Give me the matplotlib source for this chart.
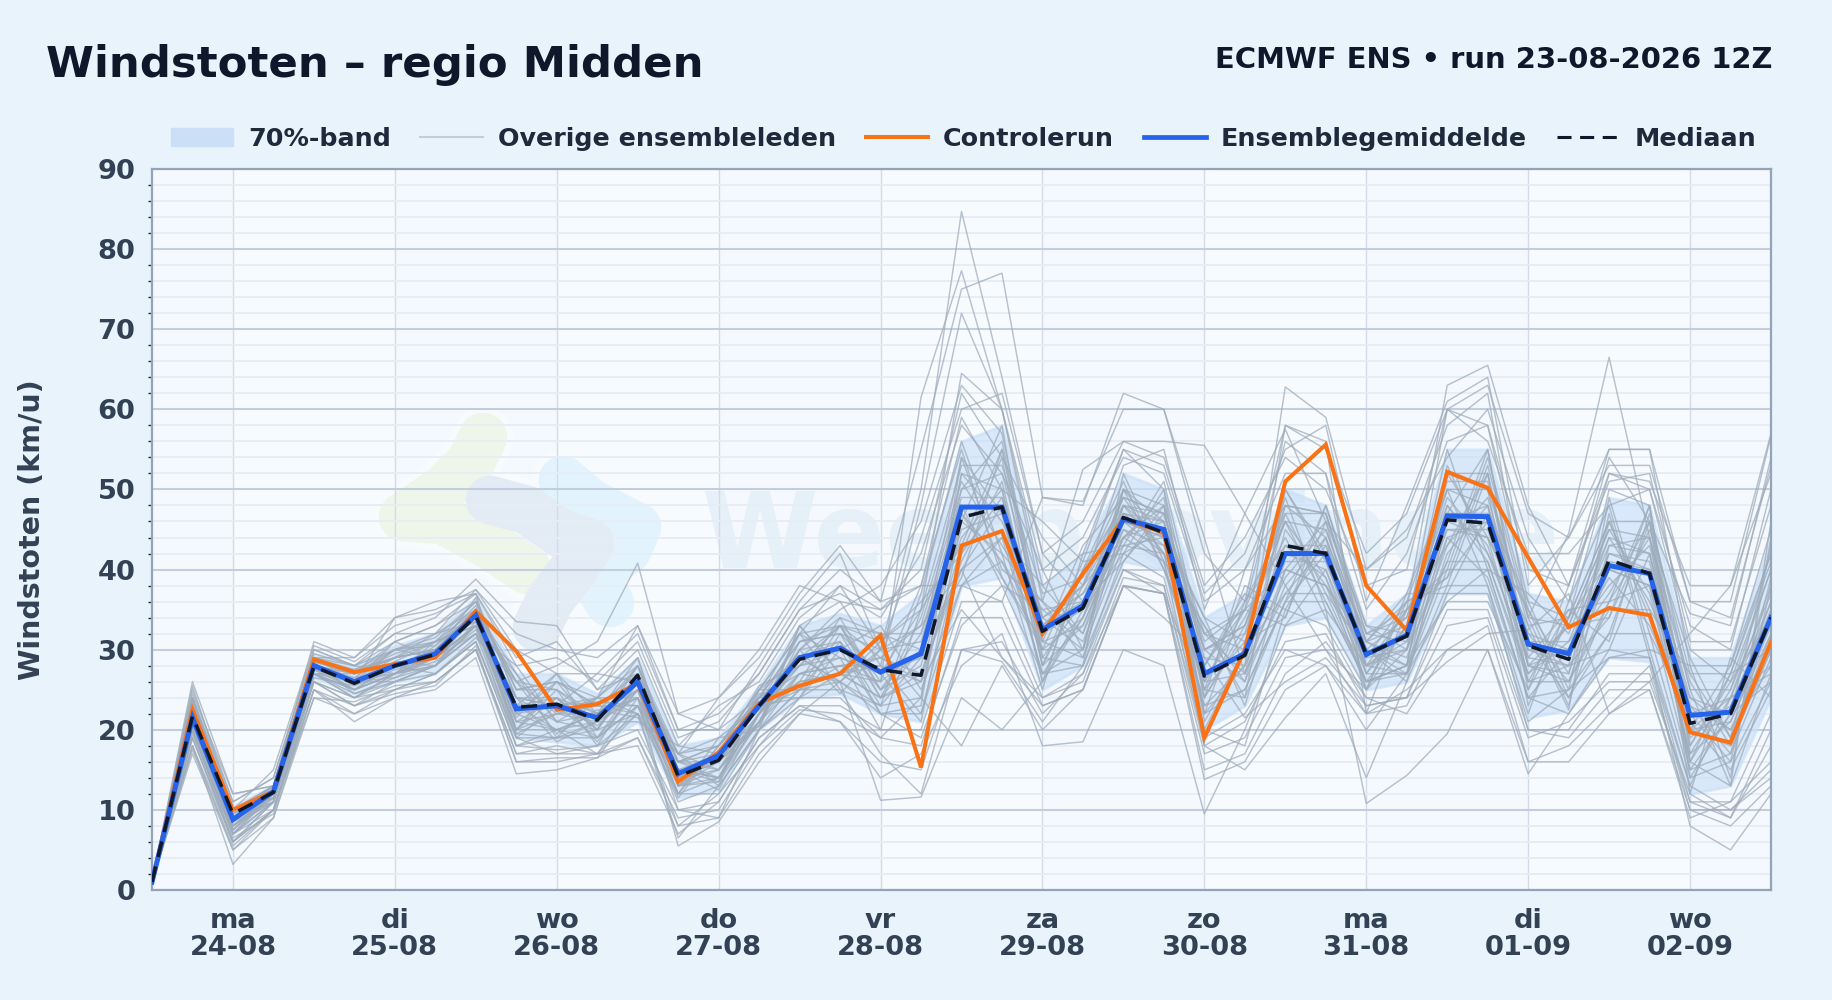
"""
Windstoten pluim (ECMWF ENS) voor regio Midden, naar out.png.
"""

import matplotlib
matplotlib.use("Agg")
import matplotlib.pyplot as plt
from matplotlib.lines import Line2D
from matplotlib.patches import Patch
from matplotlib.ticker import MultipleLocator

# forecast hours since the run, 6-hourly steps
hours = [0, 6, 12, 18, 24, 30, 36, 42, 48, 54, 60, 66, 72, 78, 84, 90, 96, 102, 108, 114, 120,
         126, 132, 138, 144, 150, 156, 162, 168, 174, 180, 186, 192, 198, 204, 210, 216, 222, 228, 234, 240]

day_hours = [12, 36, 60, 84, 108, 132, 156, 180, 204, 228]
day_labels = ["ma\n24-08", "di\n25-08", "wo\n26-08", "do\n27-08", "vr\n28-08",
              "za\n29-08", "zo\n30-08", "ma\n31-08", "di\n01-09", "wo\n02-09"]

control = [1, 22.5, 10, 12.3, 28.8, 27.2, 28.2, 29, 34.8, 29.8, 22.5, 23.2, 25.8, 13.5, 17.2, 23.3, 25.5, 27, 31.8, 15.3, 43,
           44.8, 32, 39.5, 46.3, 44.6, 19, 30, 51, 55.6, 38, 32.4, 52.2, 50.2, 41.5, 32.8, 35.2, 34.3, 19.7, 18.4, 31]
mean = [1, 21.5, 8.8, 12.3, 28, 26, 28, 29.5, 34.3, 22.6, 23, 21.5, 26, 14.5, 16.8, 23, 29, 30.2, 27.2, 29.5, 47.8,
        47.8, 32.5, 35.5, 46.3, 45, 27, 29.5, 42, 42, 29.4, 31.8, 46.7, 46.6, 30.7, 29.5, 40.5, 39.5, 21.8, 22.2, 34]
median = [1, 21.7, 9.5, 12.2, 27.9, 25.8, 28, 29.4, 34.2, 22.8, 23.2, 21.2, 26.8, 14.2, 16.2, 23, 28.8, 30, 27.5, 26.8, 46.5,
          47.8, 32.3, 35.2, 46.5, 44.6, 26.7, 29.3, 43, 42, 29.4, 31.7, 46.2, 45.8, 30.5, 28.8, 41.2, 39.5, 20.8, 22, 34]
band_low = [1, 19.5, 7, 11, 26.5, 24.5, 26, 27, 31.5, 19, 18.5, 18, 21, 11.5, 12.5, 20, 24, 24.5, 22, 21, 38,
            39, 25, 28, 41, 40, 20, 23, 33, 34, 25, 26, 37, 37, 21.5, 22.5, 29, 28.5, 12, 13, 24]
band_high = [1.5, 24, 10.5, 13, 29.5, 28, 30.5, 32, 36.5, 27, 27, 24.5, 29, 18, 19, 25.5, 33, 34.5, 33, 37, 56,
             58, 38, 42, 52, 50, 34, 37, 50, 48, 33, 37, 55, 55, 37, 36, 49, 48, 29, 29, 44]

members = [
    [1, 22, 9, 12, 28, 26, 31, 33, 36, 24, 24, 22, 28, 16, 18, 25, 32, 38, 30, 50, 84.7, 64, 42, 36, 48, 47, 30, 33, 48, 44, 31, 36, 50, 48, 32, 30, 44, 42, 24, 22, 36],
    [1, 24, 11, 14, 30, 28, 32, 34, 38.8, 33.5, 33, 25, 27, 13, 14, 22, 29, 33, 26, 61.5, 77.3, 60, 38, 42, 55, 50, 28, 35, 56, 52, 28, 32, 60, 58, 36, 34, 52, 50, 30, 26, 40],
    [1, 20, 7, 11, 27, 24, 27, 29, 33, 20, 22, 24, 33, 20, 22, 27, 35, 40, 36, 55, 75, 77, 49, 48, 62, 60, 44, 27, 40, 38, 26, 28, 52, 52, 28, 26, 40, 38, 16, 13, 27],
    [1, 23, 10, 13, 29, 27, 29, 31, 35, 26, 28, 31, 40.8, 22, 20, 24, 33, 36, 28, 48, 72, 60, 36, 52.5, 56, 56, 55.5, 47, 38, 30, 25, 33, 45, 44, 26, 28, 50, 48, 20, 18, 30],
    [1, 18, 5, 10, 25, 22, 25, 27, 31, 18, 19, 21, 25, 10, 9, 20, 27, 29, 20, 35, 64.5, 60, 40, 30, 50, 46, 22, 28, 58, 56, 22, 35, 63, 65.5, 48, 38, 55, 55, 28, 28, 45],
    [1, 21, 8, 12, 28, 25, 28, 30, 34, 22, 23, 19, 26, 14, 16, 23, 30, 35, 38, 46, 63, 57, 33, 38, 47, 43, 32, 30, 62.8, 59, 40, 44, 58, 62, 34, 44.5, 66.5, 44, 22, 24, 38],
    [1, 19, 6, 11, 26, 23, 26, 28, 32, 19, 17, 18, 22, 8, 12, 18, 24, 24, 19, 24, 18, 28, 20, 25, 38, 37, 24, 40, 48, 47, 31, 28, 36, 36, 25, 38, 52, 51, 38, 38, 52],
    [1, 17, 5, 9, 24, 22, 24, 25, 29, 14.5, 15, 16.5, 23, 11, 13, 20, 24, 27, 24, 30, 40, 29, 24, 27, 40, 38, 19, 22, 30, 28, 20, 27, 36, 40, 24, 22, 30, 29, 11, 9, 20],
    [1, 18, 3.2, 9, 25, 21, 24, 26, 30, 17, 17, 17, 24, 5.5, 8.5, 16, 22, 26, 11.2, 11.6, 24, 20, 26, 34, 44, 41, 18, 15, 21.5, 27, 14, 26, 38, 38, 20, 19, 25, 25, 9, 11, 16],
    [1, 19, 6, 10, 26, 24, 25, 26, 30, 16, 16, 17, 18, 7, 11, 19, 23, 21, 14, 17, 28, 32, 18, 18.5, 30, 28, 9.5, 20, 33, 35, 10.8, 14.3, 19.5, 30, 16, 16, 22, 25, 10, 8, 13],
    [1, 20, 7, 10, 27, 24, 26, 27, 31, 19, 19, 20, 22, 12, 12, 20, 25, 25, 17, 12, 30, 28.5, 21, 28, 40, 37, 13.8, 16, 25, 28, 22, 25, 30, 30, 14.5, 22, 29, 29, 8, 5, 12],
    [1, 22, 8, 12, 28, 26, 28, 30, 34, 22, 20, 21, 24, 15, 14, 22, 27, 28, 26, 30, 44, 50, 30, 34, 48, 46, 24, 32, 42, 40, 28, 30, 44, 46, 28, 30, 42, 40, 16, 24, 36],
    [1, 23, 9.5, 13, 29, 27, 30, 31, 36, 25, 26, 23, 27, 16, 18, 24, 31, 33, 24, 26, 52, 46, 34, 30, 50, 44, 30, 26, 38, 44, 30, 34, 48, 42, 32, 26, 36, 44, 26, 18, 30],
    [1, 21, 7.5, 11.5, 27.5, 25, 27, 29, 33, 20, 24, 20, 28, 13, 16, 21, 29, 26, 31, 36, 42, 54, 28, 38, 44, 48, 22, 36, 46, 36, 26, 28, 52, 50, 25, 34, 46, 34, 20, 28, 42],
    [1, 22.5, 9, 12.5, 28.5, 27.5, 29, 32, 35, 27, 19, 24, 22, 17, 13, 25, 25, 31, 22, 23, 54, 40, 36, 29, 46, 42, 33, 24, 36, 48, 32, 35, 40, 54, 35, 24, 32, 46, 14, 22, 26],
    [1, 20.5, 8, 11, 27, 24.5, 26.5, 28, 32, 23, 27, 19, 25, 12, 19, 20, 33, 27, 29, 33, 40, 48, 26, 40, 51, 40, 26, 34, 44, 34, 25, 37, 50, 38, 22, 36, 48, 30, 28, 14, 44],
    [1, 21.5, 10, 12, 28, 26.5, 30, 30.5, 34.5, 21, 22, 22, 29, 14, 15, 23, 26, 34, 25, 28, 50, 56, 32, 35, 42, 50, 21, 30, 50, 42, 27, 27, 42, 48, 30, 28, 30, 42, 18, 26, 34],
    [1, 24, 8.5, 13, 29.5, 28, 27, 29.5, 36.5, 24, 18.5, 21, 21, 18, 17, 25.5, 28, 30, 33, 25, 38, 44, 38, 32, 47, 46, 28, 37, 34, 46, 33, 32, 55, 40, 37, 32, 44, 36, 24, 20, 28],
    [1, 19.5, 7, 12, 26.5, 25.5, 28, 27, 31.5, 26, 25, 18, 26, 15, 12.5, 22, 32, 25, 23, 37, 56, 42, 25, 42, 43, 44, 34, 23, 40, 38, 29, 36, 38, 52, 26, 35, 36, 48, 12, 29, 24],
    [1, 22, 9, 11, 28, 27, 29.5, 31, 33.5, 19, 23, 23.5, 23, 11.5, 18, 24, 24, 32, 27, 21, 46, 58, 29, 28, 52, 41, 23, 28, 48, 47, 30, 26, 46, 44, 33, 22.5, 49, 32, 22, 16, 38],
    [1, 23, 7, 12, 28, 26, 26, 28, 35, 22, 26, 20, 27, 16, 14, 21, 30, 24.5, 30, 31, 48, 38, 35, 36, 41, 47, 31, 35, 33, 40, 26, 33, 47, 55, 28, 33, 34, 45, 29, 19, 32],
    [1, 25, 11, 14, 30, 28, 31, 33, 37, 28, 29, 26, 31, 19, 21, 27, 35, 37, 34, 42, 58, 52, 40, 44, 54, 52, 36, 40, 52, 52, 35, 42, 56, 58, 40, 38, 51, 52, 31, 31, 48],
    [1, 25.5, 10, 15, 30.5, 28.5, 32, 32, 37.5, 30, 27, 27, 32, 20, 20, 28, 36, 42, 30, 44, 60, 62, 42, 46, 56, 54, 38, 44, 54, 50, 38, 40, 60, 56, 42, 42, 48, 50, 33, 30, 50],
    [1, 24.5, 12, 13, 31, 29, 33, 34.5, 37, 29, 31, 25, 30, 18, 23, 26, 34, 38, 35, 40, 62, 54, 44, 38, 53, 55, 35, 47, 57.5, 46, 40, 45, 54, 60, 44, 36, 54, 46, 34.5, 33, 54],
    [1, 18, 6, 10, 25, 23, 25, 27, 31, 18, 17.5, 18, 20, 10, 11, 19, 23, 23, 20, 20, 36, 36, 24, 26, 39, 38, 18, 21, 31, 32, 23, 24, 35, 35, 20, 20, 27, 27, 11, 11, 22],
    [1, 17.5, 5.5, 10, 24, 23.5, 25.5, 26, 30, 17, 18, 17, 19, 9, 10, 18, 22.5, 22, 19, 18, 34, 34, 23, 25, 38, 37, 17, 19, 29, 30, 22, 23, 33, 34, 19, 21, 26, 26, 12, 9, 18],
    [1, 19, 6.5, 9.5, 26, 23, 24.5, 25.5, 30.5, 16, 16.5, 16.5, 19, 8, 9, 17, 22, 21, 16, 15, 30, 31, 22, 27, 37.9, 37, 15, 17, 27, 31, 24, 22, 30, 33, 16, 18, 23, 28, 10, 10, 14],
    [1, 26, 12, 13, 29, 29, 34, 35, 37.5, 32, 30, 29, 33, 22, 24, 29, 37, 43, 36, 38, 59, 50, 46, 41, 55, 53, 37, 42, 55, 58, 36, 48, 61, 64, 38, 44, 53, 53, 36, 36, 56.7],
    [1, 20, 6, 11, 26, 24, 27, 28, 33, 18, 20, 17, 22, 6.5, 13, 20, 25, 26, 22, 19, 33, 38, 27, 28, 42, 39, 20, 18, 35, 33, 24, 24, 37, 37, 21, 25, 29, 30, 13, 10, 15],
    [1, 21, 8, 12, 28, 25.5, 27.5, 29, 33, 24, 21, 22, 25, 14, 16, 23, 28, 29, 27, 29, 45, 47, 31, 33, 45, 43, 27, 29, 41, 41, 28, 31, 45, 45, 30, 29, 40, 38, 20, 21, 33],
    [1, 22, 9, 12, 27, 26, 29, 30, 34, 21, 24, 20, 27, 13, 15, 22, 30, 31, 25, 32, 49, 49, 33, 37, 47, 45, 25, 31, 43, 43, 29, 30, 47, 47, 28, 27, 42, 41, 19, 23, 35],
    [1, 23, 8, 11.5, 28.5, 27, 28, 29.5, 35, 26, 22, 23, 23, 15, 17, 24, 27, 28, 29, 27, 41, 51, 29, 36, 49, 47, 29, 28, 39, 45, 31, 29, 43, 49, 31, 31, 38, 43, 23, 20, 31],
    [1, 21, 9, 12.5, 27.5, 26, 28.5, 31, 33, 20, 25, 21, 26, 16, 15, 21, 31, 32, 24, 34, 51, 43, 35, 31, 44, 49, 24, 33, 46, 39, 27, 33, 49, 43, 27, 33, 45, 37, 17, 25, 37],
    [1, 20, 7, 11, 27, 25, 27, 28.5, 32.5, 23, 20, 22, 24, 12, 14, 22, 26, 27, 28, 26, 43, 45, 27, 34, 46, 44, 26, 27, 37, 37, 26, 28, 41, 41, 26, 26, 35, 35, 15, 17, 29],
    [1, 24, 10, 13, 29, 28, 30, 31.5, 36, 25, 26, 24, 28, 17, 18, 25, 32, 33, 31, 35, 53, 53, 37, 39, 50, 48, 32, 35, 47, 47, 32, 34, 51, 51, 33, 34, 46, 46, 27, 27, 41],
    [1, 22, 8.5, 12, 28, 27, 29, 30, 34, 23, 23, 20.5, 25, 14, 16.5, 23, 29, 26, 23, 24, 47, 41, 30, 30, 48, 44, 22, 25, 36, 42, 30, 27, 44, 39, 24, 30, 39, 33, 21, 15, 25],
    [1, 22.5, 9.5, 11.5, 29, 26, 27, 30.5, 35.5, 21.5, 27, 22, 24, 15, 13.5, 24.5, 25, 33, 32, 30, 39, 55, 34, 37, 43, 51, 30, 32, 49, 35, 28, 35, 39, 53, 34, 23, 43, 44, 16, 27, 42],
    [1, 23.5, 7.5, 12.5, 27, 27, 31, 29, 32, 28, 21, 24, 29, 13, 17, 20.5, 33, 27, 26, 38, 55, 39, 31, 43, 49, 42, 25, 38, 35, 44, 25, 30, 53, 42, 29, 35, 31, 47, 25, 13, 46],
    [1, 20.5, 9, 12, 28.5, 24.5, 26, 28, 33.5, 19.5, 19, 19, 23, 17, 19, 23, 24, 30, 22, 22, 42, 49, 28, 33, 45, 41, 33, 26, 45, 38, 31, 37, 37, 47, 36, 25, 47, 29, 13, 24, 27],
    [1, 22, 8, 12, 28, 26, 34, 36, 37, 20, 20, 22, 26, 15, 16, 22, 28, 33, 29, 26, 35, 29, 23, 25, 38, 34, 29, 21.5, 26, 29, 23, 24, 28.5, 32, 32.5, 37, 22, 26, 32, 38, 57],
    [1, 21, 9, 13, 27, 25, 27, 29, 33, 24, 23, 27, 26, 17, 24, 30, 38, 36, 35, 38, 38, 36, 49, 48.5, 60, 60, 42, 36, 58, 55, 42, 47, 60, 63, 47, 44, 55, 55, 36, 34, 53],
    [1, 21.5, 8, 12, 27, 25, 27, 28, 33, 21, 20, 19, 23, 13, 13.5, 21, 26, 27, 24, 27, 40, 44, 27, 30, 43, 42, 23, 25, 36, 36, 26, 27, 40, 40, 24, 25, 32, 32, 14, 16, 26],
    [1, 23, 9, 12.5, 29, 27, 29, 30, 35, 25, 25, 22, 26, 16, 17, 24, 31, 32, 30, 33, 50, 52, 34, 38, 49, 47, 30, 33, 46, 45, 31, 33, 50, 50, 34, 33, 45, 44, 25, 25, 40],
    [1, 22, 10, 11.5, 28, 26, 30, 29, 34, 20, 26, 23, 22, 14, 16, 25, 29, 31, 23, 29, 46, 42, 36, 32, 44, 46, 26, 35, 40, 46, 27, 35, 43, 52, 30, 30, 37, 46, 18, 27, 30],
    [1, 20.5, 7.5, 12, 27, 26.5, 27, 31, 33, 27, 21, 20, 27, 17, 15, 21, 27, 26, 30, 24, 52, 50, 28, 40, 48, 42, 32, 27, 47, 37, 30, 28, 52, 44, 35, 27, 46, 35, 27, 19, 39],
    [1, 21, 8.5, 11, 28, 25, 28.5, 28, 32, 24, 23, 24, 24, 12, 18, 23, 32, 29, 27, 35, 43, 55, 31, 29, 41, 48, 20, 30, 37, 43, 32, 31, 46, 48, 23, 34, 41, 40, 15, 22, 43],
    [1, 23.5, 9, 13, 28.5, 27, 29, 30, 35, 19.5, 22, 21, 28, 15, 14, 24, 28, 33, 25, 30, 54, 47, 26, 35, 50, 40, 28, 36, 43, 39, 25, 36, 39, 46, 31, 24, 36, 38, 23, 17, 35],
    [1, 22.5, 8, 12, 27.5, 26, 26.5, 29, 34.5, 23, 24, 18.5, 25, 13, 17, 22.5, 25, 28, 28, 22, 38, 41, 33, 36, 46, 44, 25, 24, 50, 41, 28, 27, 48, 41, 27, 31, 43, 42, 20, 24, 28],
    [1, 24, 9.5, 12.5, 29, 27.5, 30, 32, 33.5, 26, 19.5, 22.5, 21.5, 16, 16, 20.5, 30, 34, 32, 32, 47, 39, 30, 41, 42, 45, 34, 31, 34, 48, 33, 30, 41, 55, 29, 28, 34, 48, 17, 21, 32],
]

BG = "#e8f3fc"
W, H = 1832, 1000


def px(x, y):
    # reference pixels -> figure fraction
    return x / W, 1 - y / H


def add_logo(ax, fig):
    # faint background logo: thick rounded strokes with a pale gap between them
    strokes = [
        ("#e3f3fd", [(563, 480), (590, 503), (637, 527), (627, 550), (593, 577), (610, 603)]),
        ("#eef6ea", [(483, 437), (470, 463), (443, 490), (403, 517), (443, 520), (493, 547), (527, 570)]),
        ("#e3ecf5", [(490, 500), (527, 510), (560, 533), (590, 543), (573, 570), (550, 600), (537, 627)]),
    ]
    for color, pts in strokes:
        xs = [px(*p)[0] for p in pts]
        ys = [px(*p)[1] for p in pts]
        ax.add_line(Line2D(xs, ys, transform=fig.transFigure, color="#f8fbfe", lw=44,
                           solid_capstyle="round", solid_joinstyle="round", zorder=0.2))
        ax.add_line(Line2D(xs, ys, transform=fig.transFigure, color=color, lw=35,
                           solid_capstyle="round", solid_joinstyle="round", zorder=0.3))
    tx, ty = px(702, 568)
    ax.text(tx, ty, "Weerprovincie", transform=fig.transFigure, fontsize=76, fontweight="bold",
            color="#e6f0f8", ha="left", va="baseline", zorder=0.3, clip_on=True)


def main():
    plt.rcParams["font.family"] = "DejaVu Sans"
    fig = plt.figure(figsize=(W / 100, H / 100), dpi=100, facecolor=BG)
    ax = fig.add_axes([152 / W, 1 - 890 / H, (1771 - 152) / W, (890 - 169) / H])
    ax.set_facecolor("#f8fbfe")
    ax.set_xlim(0, 240)
    ax.set_ylim(0, 90)

    # alternate days a touch darker
    for start, end in [(0, 12), (36, 60), (84, 108), (132, 156), (180, 204), (228, 240)]:
        ax.axvspan(start, end, color="#f5f9fd", lw=0, zorder=0.1)
    add_logo(ax, fig)

    ax.set_axisbelow(True)
    ax.yaxis.set_major_locator(MultipleLocator(10))
    ax.yaxis.set_minor_locator(MultipleLocator(2))
    ax.grid(which="major", axis="y", color="#c2cede", lw=1.5)
    ax.grid(which="minor", axis="y", color="#e6edf5", lw=1.4)
    ax.grid(which="major", axis="x", color="#d3dbe7", lw=1.0)

    ax.fill_between(hours, band_low, band_high, color="#c9dff8", alpha=0.65, lw=2, zorder=1.5)
    for member in members:
        ax.plot(hours, member, color="#9dabba", lw=1.05, alpha=0.72, zorder=2)
    ax.plot(hours, control, color="#f97316", lw=2.9, zorder=3, solid_joinstyle="miter")
    ax.plot(hours, mean, color="#2563eb", lw=3.6, zorder=4, solid_joinstyle="miter")
    ax.plot(hours, median, color="#0f172a", lw=2.5, ls=(0, (4.6, 2.8)), zorder=5)

    ax.set_xticks(day_hours)
    ax.set_xticklabels(day_labels, linespacing=1.06)
    ax.tick_params(axis="x", length=0, pad=13, labelsize=19.6, labelcolor="#334155")
    ax.tick_params(axis="y", which="major", length=0, pad=12, labelsize=19.6, labelcolor="#334155")
    ax.tick_params(axis="y", which="minor", length=3, width=1, color="#1e293b")
    for label in ax.get_xticklabels() + ax.get_yticklabels():
        label.set_fontweight("bold")
    for spine in ax.spines.values():
        spine.set_color("#94a3b8")
        spine.set_linewidth(1.6)

    fig.text(*px(32, 530), "Windstoten (km/u)", rotation=90, ha="center", va="center",
             fontsize=20.5, fontweight="bold", color="#334155")
    fig.text(*px(46, 65), "Windstoten – regio Midden", ha="left", va="center",
             fontsize=31.3, fontweight="bold", color="#0f172a")
    fig.text(*px(1772, 60), "ECMWF ENS • run 23-08-2026 12Z", ha="right", va="center",
             fontsize=20.9, fontweight="bold", color="#0f172a")

    handles = [
        Patch(color="#cbdff7", label="70%-band"),
        Line2D([], [], color="#c3ccd8", lw=1.5, label="Overige ensembleleden"),
        Line2D([], [], color="#f97316", lw=2.9, label="Controlerun"),
        Line2D([], [], color="#2563eb", lw=3.4, label="Ensemblegemiddelde"),
        Line2D([], [], color="#0f172a", lw=2.2, ls=(0, (4.6, 2.8)), label="Mediaan"),
    ]
    fig.legend(handles=handles, ncol=5, frameon=False, loc="center right", bbox_to_anchor=px(1756, 139),
               bbox_transform=fig.transFigure, labelcolor="#1e293b",
               prop={"weight": "bold", "size": 18.3}, handlelength=2.45, handletextpad=0.6,
               columnspacing=1.16, borderaxespad=0, borderpad=0)

    fig.savefig("out.png", dpi=100, facecolor=BG)
    plt.close(fig)


if __name__ == "__main__":
    main()
